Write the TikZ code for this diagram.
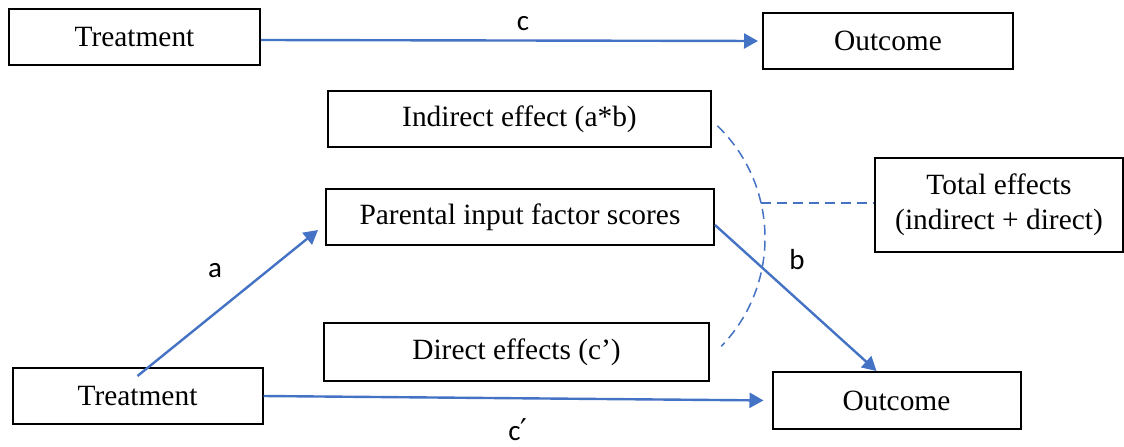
\documentclass[tikz,border=0pt]{standalone}
\usepackage{fontspec}
\setmainfont{Liberation Serif}
\newfontfamily\labelfont{Carlito}
\newfontfamily\primefont{DejaVu Sans}
\usetikzlibrary{arrows.meta}
\definecolor{pathblue}{RGB}{68,114,196}

\begin{document}
\begin{tikzpicture}[x=0.5pt,y=0.5pt]
      \useasboundingbox (0,0) rectangle (1124,446);
      \begin{scope}[every node/.style={draw,line width=1pt,inner sep=0pt,align=center,font=\fontsize{14.7}{17.5}\selectfont}]
        \node[minimum width=125.5pt,minimum height=28pt] (treatA) at (134.5,409) {Treatment};
        \node[minimum width=125pt,minimum height=28pt] (outA) at (888,405) {Outcome};
        \node[minimum width=191.5pt,minimum height=28pt] (indirect) at (519.5,327) {Indirect effect (a*b)};
        \node[minimum width=194pt,minimum height=28pt] (parental) at (520,229) {Parental input factor scores};
        \node[minimum width=192.5pt,minimum height=29pt] (direct) at (516.5,94) {Direct effects (c’)};
        \node[minimum width=124pt,minimum height=47pt] (total) at (999,241) {Total effects\\(indirect + direct)};
        \node[minimum width=125pt,minimum height=28pt] (treatB) at (137.5,50) {Treatment};
        \node[minimum width=124pt,minimum height=28.5pt] (outB) at (896.5,45.5) {Outcome};
      \end{scope}
      \begin{scope}[every edge/.style={draw=pathblue,line width=1.2pt,-{Triangle[length=7pt,width=7.5pt]}}]
        \path ([yshift=-1.5pt]treatA.east) edge[shorten >=2pt] (outA.west);
        \path ([yshift=-4.5pt]treatB.north) edge ([xshift=-3.5pt,yshift=-6.5pt]parental.west);
        \path ([yshift=-4pt]parental.east) edge ([xshift=-10pt]outB.north);
        \path (treatB.east) edge[shorten >=4pt] (outB.west);
      \end{scope}
      % dashed bracket round the two effects
      \begin{scope}[draw=pathblue,line width=0.75pt,dash pattern=on 5pt off 3pt]
        \draw (609,208) ++(46:78pt) arc[start angle=46,end angle=-44,radius=78pt];
        \coordinate (join) at (761,243);
        \draw (join) -- (join -| total.west);
      \end{scope}
      \begin{scope}[every node/.style={font=\labelfont\fontsize{14.5}{17}\selectfont}]
        \node (labc) at (523,422) {c};
        \node (laba) at (215,175) {a};
        \node (labb) at (797,186) {b};
        \node (labcp) at (518,16) {c{\primefont\fontsize{15}{17}\selectfont ′}};
      \end{scope}
    \end{tikzpicture}
\end{document}
